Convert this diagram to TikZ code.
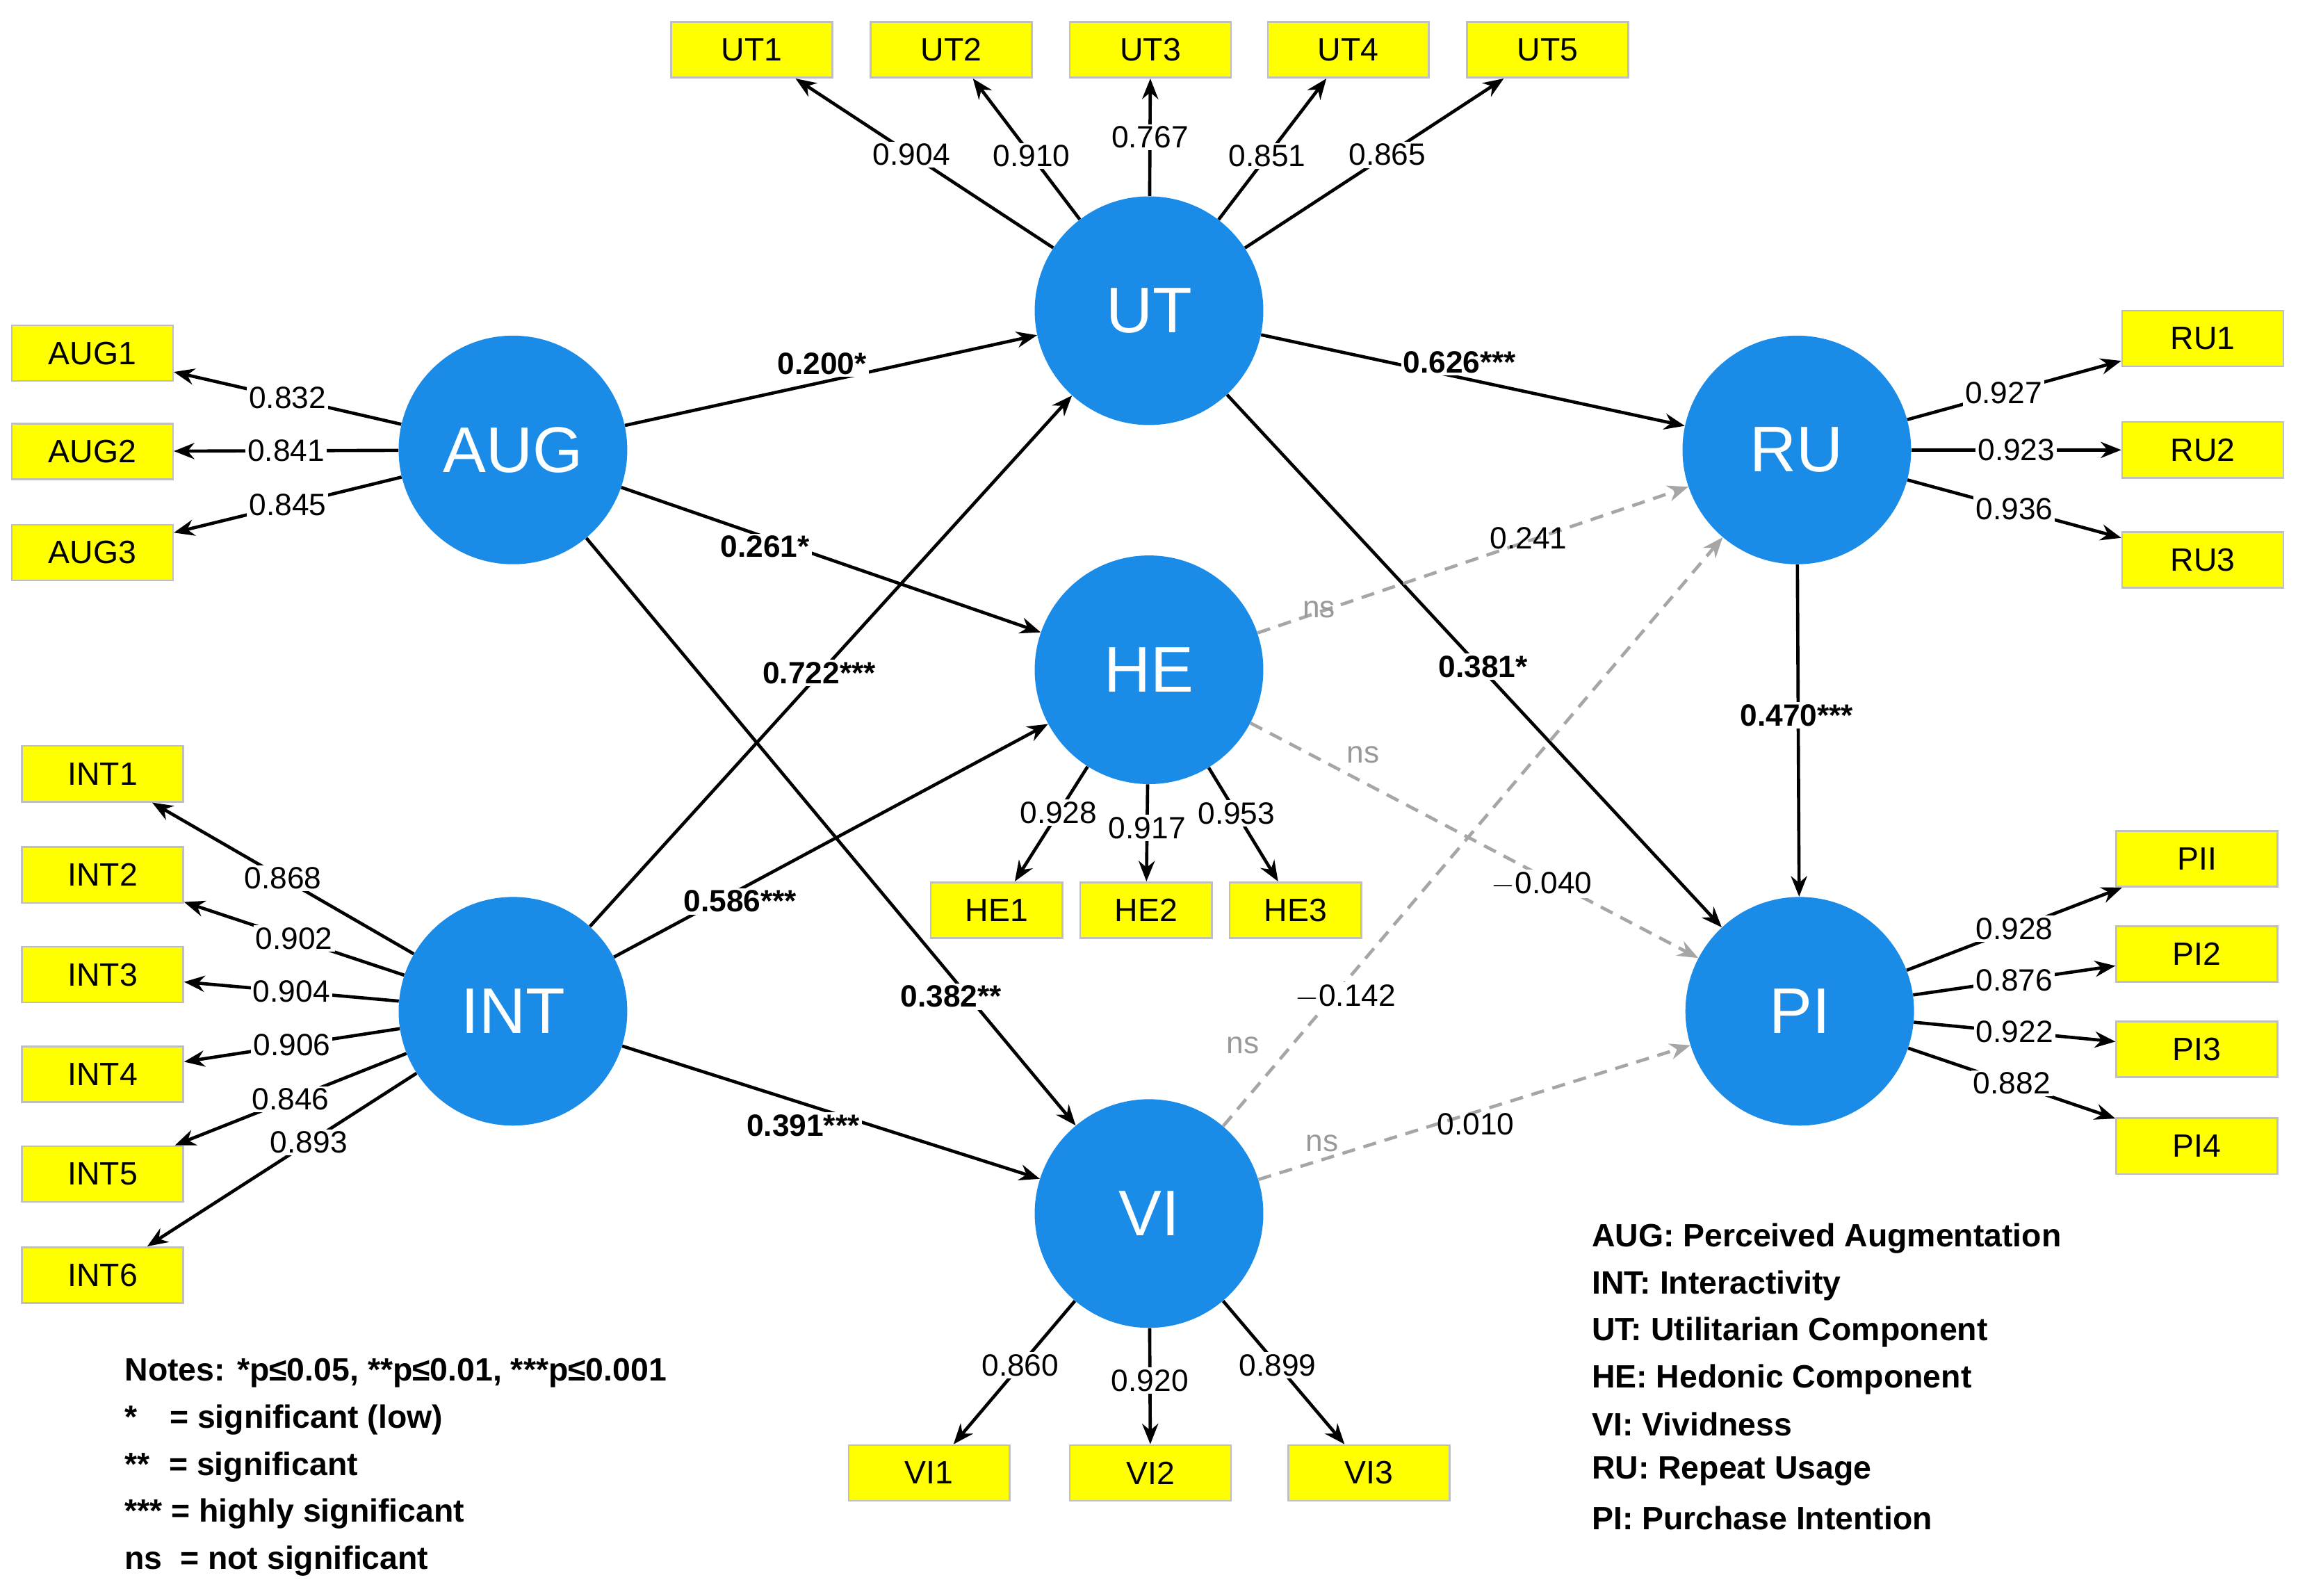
\documentclass[tikz,border=0pt]{standalone}
\usepackage{fontspec}
\setmainfont{Liberation Sans}
\usetikzlibrary{arrows.meta}
\definecolor{cblue}{RGB}{26,140,232}
\definecolor{cyel}{RGB}{255,255,0}
\begin{document}
\begin{tikzpicture}[x=1pt,y=-1pt,
  lv/.style={circle,fill=cblue,minimum size=156pt,inner sep=0pt,text=white,font=\fontsize{44}{48}\selectfont},
  ind/.style={draw=black!25,line width=1.2pt,fill=cyel,minimum width=110pt,minimum height=38pt,inner sep=0pt,font=\fontsize{22}{26}\selectfont},
  sind/.style={ind,minimum width=90pt},
  arr/.style={line width=2.2pt,-{Stealth[length=14pt,width=11pt]}},
  darr/.style={arr,draw=black!35,dashed,dash pattern=on 9pt off 6pt},
  num/.style={fill=white,inner sep=1.5pt,font=\fontsize{21}{24}\selectfont},
  bnum/.style={fill=white,inner sep=1.5pt,font=\bfseries\fontsize{21}{24}\selectfont},
  gnum/.style={inner sep=1pt,text=black!40,font=\fontsize{21}{24}\selectfont},
  leg/.style={anchor=west,inner sep=0pt,font=\bfseries\fontsize{22}{26}\selectfont}]
\useasboundingbox[fill=white] (0,0) rectangle (1568,1088.5);
% latent variables
\node[lv] (UT) at (784,212) {UT};
\node[lv] (AUG) at (350,307) {AUG};
\node[lv] (HE) at (784,457) {HE};
\node[lv] (INT) at (350,690) {INT};
\node[lv] (VI) at (784,828) {VI};
\node[lv] (RU) at (1226,307) {RU};
\node[lv] (PI) at (1228,690) {PI};
% indicators
\node[ind] (UT1) at (513,34) {UT1};
\node[ind] (UT2) at (649,34) {UT2};
\node[ind] (UT3) at (785,34) {UT3};
\node[ind] (UT4) at (920,34) {UT4};
\node[ind] (UT5) at (1056,34) {UT5};
\node[ind] (AUG1) at (63,241) {AUG1};
\node[ind] (AUG2) at (63,308) {AUG2};
\node[ind] (AUG3) at (63,377) {AUG3};
\node[ind] (INT1) at (70,528) {INT1};
\node[ind] (INT2) at (70,597) {INT2};
\node[ind] (INT3) at (70,665) {INT3};
\node[ind] (INT4) at (70,733) {INT4};
\node[ind] (INT5) at (70,801) {INT5};
\node[ind] (INT6) at (70,870) {INT6};
\node[sind] (HE1) at (680,621) {HE1};
\node[sind] (HE2) at (782,621) {HE2};
\node[sind] (HE3) at (884,621) {HE3};
\node[ind] (VI1) at (634,1005) {VI1};
\node[ind] (VI2) at (785,1005) {VI2};
\node[ind] (VI3) at (934,1005) {VI3};
\node[ind] (RU1) at (1503,231) {RU1};
\node[ind] (RU2) at (1503,307) {RU2};
\node[ind] (RU3) at (1503,382) {RU3};
\node[ind] (PI1) at (1499,586) {PII};
\node[ind] (PI2) at (1499,651) {PI2};
\node[ind] (PI3) at (1499,716) {PI3};
\node[ind] (PI4) at (1499,782) {PI4};
% loadings
\foreach \s/\t/\v/\p in {UT/UT1/0.904/0.55,UT/UT2/0.910/0.45,UT/UT3/0.767/0.5,UT/UT4/0.851/0.45,UT/UT5/0.865/0.55,
  AUG/AUG1/0.832/0.5,AUG/AUG2/0.841/0.5,AUG/AUG3/0.845/0.5,
  INT/INT1/0.868/0.5,INT/INT2/0.902/0.5,INT/INT3/0.904/0.5,INT/INT4/0.906/0.5,INT/INT5/0.846/0.5,INT/INT6/0.893/0.4,
  HE/HE1/0.928/0.4,HE/HE2/0.917/0.45,HE/HE3/0.953/0.4,
  VI/VI1/0.860/0.45,VI/VI2/0.920/0.45,VI/VI3/0.899/0.45,
  RU/RU1/0.927/0.45,RU/RU2/0.923/0.5,RU/RU3/0.936/0.5,
  PI/PI1/0.928/0.5,PI/PI2/0.876/0.5,PI/PI3/0.922/0.5,PI/PI4/0.882/0.5}
  \draw[arr] (\s) -- node[num,pos=\p]{\v} (\t);
% structural paths
\draw[arr] (AUG) -- (UT);  \node[bnum] (l1) at (561,248) {0.200*};
\draw[arr] (AUG) -- (HE);  \node[bnum] (l2) at (522,373) {0.261*};
\draw[arr] (INT) -- (UT);  \node[bnum] (l3) at (559,459) {0.722***};
\draw[arr] (INT) -- (HE);  \node[bnum] (l4) at (505,615) {0.586***};
\draw[arr] (AUG) -- (VI);  \node[bnum] (l5) at (649,680) {0.382**};
\draw[arr] (INT) -- (VI);  \node[bnum] (l6) at (548,768) {0.391***};
\draw[arr] (UT) -- (RU);   \node[bnum] (l7) at (996,247) {0.626***};
\draw[arr] (UT) -- (PI);   \node[bnum] (l8) at (1012,455) {0.381*};
\draw[arr] (RU) -- (PI);   \node[bnum] (l9) at (1226,488) {0.470***};
\draw[darr] (HE) -- (RU);
\draw[darr] (HE) -- (PI);
\draw[darr] (VI) -- (RU);
\draw[darr] (VI) -- (PI);
\node[num,fill=none] (d1) at (1043,367) {0.241};
\node[gnum] (n1) at (900,416) {ns};
\node[num] (d2) at (1052,603) {$-$0.040};
\node[gnum] (n2) at (930,515) {ns};
\node[num] (d3) at (918,680) {$-$0.142};
\node[gnum] (n3) at (848,713) {ns};
\node[num,fill=none] (d4) at (1007,767) {0.010};
\node[gnum] (n4) at (902,780) {ns};
% legends
\node[leg] (a1) at (85,937) {Notes: *p≤0.05, **p≤0.01, ***p≤0.001};
\node[leg] (a2) at (85,969) {*\hspace{22pt}= significant (low)};
\node[leg] (a3) at (85,1001) {**\hspace{13pt}= significant};
\node[leg] (a4) at (85,1033) {*** = highly significant};
\node[leg] (a5) at (85,1065) {ns\hspace{6pt} = not significant};
\node[leg] (b1) at (1086,845) {AUG: Perceived Augmentation};
\node[leg] (b2) at (1086,877) {INT: Interactivity};
\node[leg] (b3) at (1086,909) {UT: Utilitarian Component};
\node[leg] (b4) at (1086,941) {HE: Hedonic Component};
\node[leg] (b5) at (1086,972) {VI: Vividness};
\node[leg] (b6) at (1086,1004) {RU: Repeat Usage};
\node[leg] (b7) at (1086,1036) {PI: Purchase Intention};
\end{tikzpicture}
\end{document}
